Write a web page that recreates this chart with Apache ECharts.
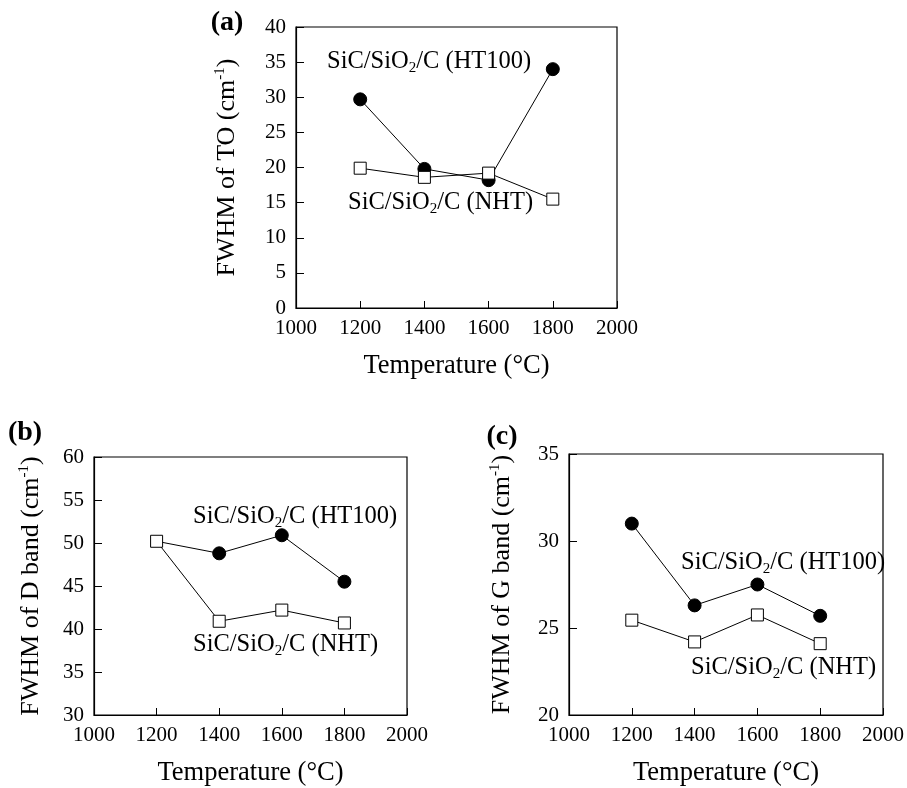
<!DOCTYPE html>
<html>
<head>
<meta charset="utf-8">
<script src="https://cdn.jsdelivr.net/npm/echarts@6/dist/echarts.min.js"></script>
<style>
  html, body { margin: 0; padding: 0; background: #fff; }
  #main { width: 907px; height: 788px; }
</style>
</head>
<body>
<div id="main"></div>
<script>
// temperatures (°C)
var temps = [1200, 1400, 1600, 1800];

// (a) FWHM of TO
var toHT = [29.7, 19.8, 18.2, 34.0];
var toNHT = [19.9, 18.6, 19.2, 15.5];
// (b) FWHM of D band (HT100 starts from the same 1200 point)
var dHT = [50.2, 48.8, 50.9, 45.5];
var dNHT = [50.2, 40.9, 42.2, 40.7];
// (c) FWHM of G band
var gHT = [31.0, 26.3, 27.5, 25.7];
var gNHT = [25.45, 24.2, 25.75, 24.1];

var xTicks = { min: 1000, max: 2000, step: 200 };
var yTicksA = { min: 0, max: 40, step: 5 };
var yTicksB = { min: 30, max: 60, step: 5 };
var yTicksC = { min: 20, max: 35, step: 5 };

var FONT = '"Liberation Serif", "Times New Roman", serif';

function pairs(xs, ys) {
  return xs.map(function (x, i) { return [x, ys[i]]; });
}

function xAxis(idx) {
  return {
    type: 'value', gridIndex: idx,
    min: xTicks.min, max: xTicks.max, interval: xTicks.step,
    axisLine: { show: true, lineStyle: { color: '#000', width: 1.2 } },
    axisTick: { show: true, inside: true, length: 7, lineStyle: { color: '#000', width: 1 } },
    axisLabel: { color: '#000', fontFamily: FONT, fontSize: 21, margin: 10,
      formatter: function (v) { return String(v); } },
    splitLine: { show: false },
    name: 'Temperature (°C)', nameLocation: 'middle', nameGap: 45,
    nameTextStyle: { color: '#000', fontFamily: FONT, fontSize: 26.5 }
  };
}

function yAxis(idx, t, label, gap) {
  return {
    type: 'value', gridIndex: idx,
    min: t.min, max: t.max, interval: t.step,
    axisLine: { show: true, lineStyle: { color: '#000', width: 1.2 } },
    axisTick: { show: true, inside: true, length: 8, lineStyle: { color: '#000', width: 1 } },
    axisLabel: { color: '#000', fontFamily: FONT, fontSize: 21, margin: 10,
      formatter: function (v) { return String(v); } },
    splitLine: { show: false },
    name: '{t|' + label + ' (cm}{s|-1}{t|)}', nameLocation: 'middle', nameGap: gap,
    nameRotate: 90,
    nameTextStyle: {
      rich: {
        t: { color: '#000', fontFamily: FONT, fontSize: 26, lineHeight: 28 },
        s: { color: '#000', fontFamily: FONT, fontSize: 15, lineHeight: 15, verticalAlign: 'top' }
      }
    }
  };
}

function filled(name, idx, data, hideFirst) {
  return {
    name: name, type: 'line', xAxisIndex: idx, yAxisIndex: idx, data: data,
    symbol: 'circle',
    symbolSize: function (v, p) { return hideFirst && p.dataIndex === 0 ? 0 : 13; },
    itemStyle: { color: '#000', borderColor: '#000', borderWidth: 1 },
    lineStyle: { color: '#000', width: 1 },
    animation: false
  };
}

function open(name, idx, data) {
  return {
    name: name, type: 'line', xAxisIndex: idx, yAxisIndex: idx, data: data,
    symbol: 'rect', symbolSize: 12,
    itemStyle: { color: '#fff', borderColor: '#000', borderWidth: 1 },
    lineStyle: { color: '#000', width: 1 },
    animation: false
  };
}

var richLabel = {
  a: { fill: '#000', fontFamily: FONT, fontSize: 24.5, lineHeight: 27 },
  s: { fill: '#000', fontFamily: FONT, fontSize: 15, lineHeight: 12, verticalAlign: 'bottom' }
};

function note(x, y, tag) {
  return {
    type: 'text', x: x, y: y, silent: true,
    style: {
      text: '{a|SiC/SiO}{s|2}{a|/C (' + tag + ')}',
      rich: richLabel, verticalAlign: 'middle', align: 'left'
    }
  };
}

function panel(x, y, txt) {
  return {
    type: 'text', x: x, y: y, silent: true,
    style: {
      text: txt, fill: '#000', align: 'center', verticalAlign: 'middle',
      font: 'bold 28px ' + FONT
    }
  };
}

var chart = echarts.init(document.getElementById('main'), null, { renderer: 'canvas' });

var option = {
  backgroundColor: '#fff',
  animation: false,
  grid: [
    { left: 296, top: 27, width: 321, height: 281, show: true, borderColor: '#000', borderWidth: 1.2, backgroundColor: 'transparent' },
    { left: 94, top: 457, width: 313, height: 262, show: true, borderColor: '#000', borderWidth: 1.2, backgroundColor: 'transparent' },
    { left: 569, top: 454, width: 324, height: 265, show: true, borderColor: '#000', borderWidth: 1.2, backgroundColor: 'transparent' }
  ],
  xAxis: [xAxis(0), xAxis(1), xAxis(2)],
  yAxis: [
    yAxis(0, yTicksA, 'FWHM of TO', 55),
    yAxis(1, yTicksB, 'FWHM of D band', 49),
    yAxis(2, yTicksC, 'FWHM of G band', 53)
  ],
  series: [
    filled('HT100 TO', 0, pairs(temps, toHT)),
    open('NHT TO', 0, pairs(temps, toNHT)),
    filled('HT100 D', 1, pairs(temps, dHT), true),
    open('NHT D', 1, pairs(temps, dNHT)),
    filled('HT100 G', 2, pairs(temps, gHT)),
    open('NHT G', 2, pairs(temps, gNHT))
  ],
  graphic: [
    panel(227, 23, '(a)'),
    panel(25, 433, '(b)'),
    panel(502, 437, '(c)'),
    note(327, 62, 'HT100'),
    note(348, 203, 'NHT'),
    note(193, 517, 'HT100'),
    note(193, 645, 'NHT'),
    note(681, 563, 'HT100'),
    note(691, 668, 'NHT')
  ]
};

chart.setOption(option);
</script>
</body>
</html>
